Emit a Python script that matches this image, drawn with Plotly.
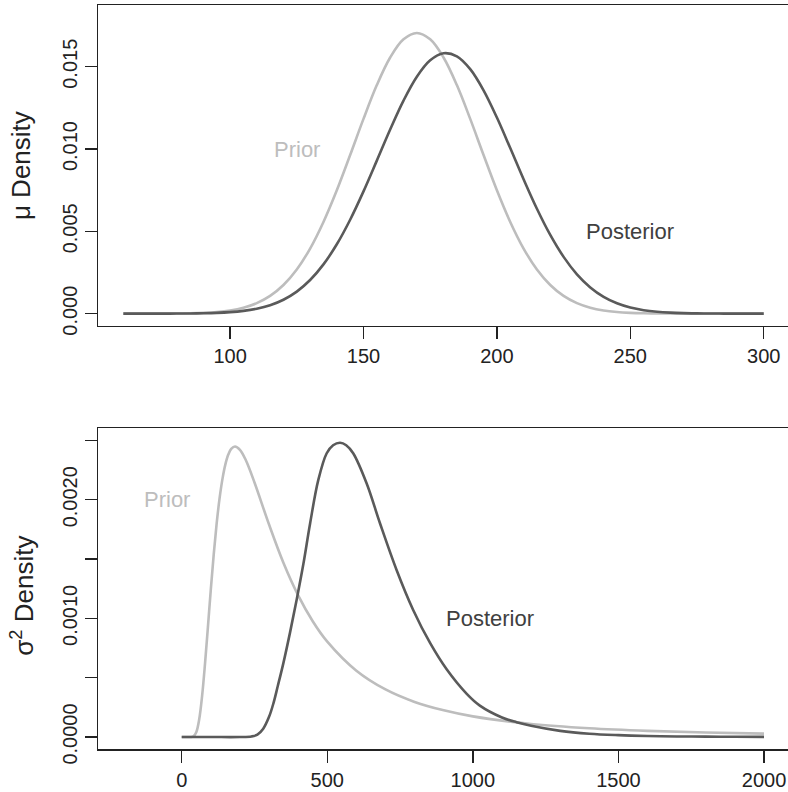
import plotly.graph_objects as go

# ---- top panel: mu ----
mu_x = [60, 65, 70, 75, 80, 85, 90, 95, 100, 105, 110, 115, 120, 125, 130, 135, 140, 145,
        150, 155, 160, 165, 170, 175, 180, 185, 190, 195, 200, 205, 210, 215, 220, 225,
        230, 235, 240, 245, 250, 255, 260, 265, 270, 275, 280, 285, 290, 295, 300]
mu_prior = [0.0000003, 0.0000007, 0.0000018, 0.0000045, 0.0000105, 0.0000232, 0.0000494,
            0.0001002, 0.000194, 0.000360, 0.000637, 0.001077, 0.001739, 0.002683, 0.003955,
            0.005572, 0.007496, 0.009637, 0.01183, 0.013884, 0.01556, 0.016665, 0.01705,
            0.016665, 0.01556, 0.013884, 0.01183, 0.009637, 0.007496, 0.005572, 0.003955,
            0.002683, 0.001739, 0.001077, 0.000637, 0.000360, 0.000194, 0.0001002, 0.0000494,
            0.0000232, 0.0000105, 0.0000045, 0.0000018, 0.0000007, 0.0000003, 0.0000001,
            0.0, 0.0, 0.0]
mu_post = [0.0000002, 0.0000004, 0.0000010, 0.0000023, 0.0000051, 0.0000112, 0.0000233,
           0.0000469, 0.0000904, 0.000168, 0.000299, 0.000513, 0.000846, 0.001340, 0.002042,
           0.002992, 0.004214, 0.005706, 0.007428, 0.009297, 0.011187, 0.012941, 0.014392,
           0.015389, 0.015819, 0.015633, 0.014853, 0.013567, 0.011914, 0.010059, 0.008164,
           0.006371, 0.004780, 0.003448, 0.002390, 0.001594, 0.001021, 0.000629, 0.000373,
           0.000212, 0.000116, 0.0000612, 0.0000310, 0.0000151, 0.0000070, 0.0000032,
           0.0000014, 0.0000006, 0.0000002]
mu_xticks = [100, 150, 200, 250, 300]
mu_yticks = [0.0, 0.005, 0.010, 0.015]
mu_yticktext = ["0.000", "0.005", "0.010", "0.015"]

# ---- bottom panel: sigma^2 ----
sig_prior_x = [0, 20, 30, 40, 50, 60, 70, 80, 90, 100, 110, 120, 130, 140, 150, 160, 170, 183,
               200, 220, 250, 300, 350, 400, 450, 500, 600, 700, 800, 900, 1000, 1200, 1400,
               1600, 1800, 2000]
sig_prior = [0.0, 0.0, 0.0000001, 0.0000052, 0.000041, 0.000148, 0.000345, 0.000616, 0.000927,
             0.001245, 0.00154, 0.001798, 0.002011, 0.002176, 0.002298, 0.002381, 0.002429,
             0.002449, 0.002421, 0.002335, 0.002146, 0.001791, 0.001465, 0.001194, 0.000976,
             0.000804, 0.000559, 0.000401, 0.000296, 0.000225, 0.000174, 0.0001104, 0.0000742,
             0.0000522, 0.0000381, 0.0000286]
sig_post_x = [0, 100, 200, 240, 260, 280, 300, 315, 330, 349, 372, 395, 418, 441, 469, 498, 520,
              544, 565, 589, 635, 681, 738, 795, 853, 910, 979, 1024, 1100, 1150, 1200, 1300,
              1400, 1500, 1600, 1700, 1800, 1900, 2000]
sig_post = [0.0, 0.0, 0.0, 0.000005, 0.00002, 0.00007, 0.00017, 0.000284, 0.00043, 0.000621,
            0.00088, 0.00116, 0.00146, 0.0018, 0.002165, 0.002392, 0.00246, 0.002481, 0.00246,
            0.002392, 0.002139, 0.001802, 0.001408, 0.001071, 0.000793, 0.000571, 0.000364,
            0.000265, 0.000165, 0.000125, 0.000095, 0.000052, 0.000028, 0.000016, 0.000009,
            0.000005, 0.000003, 0.000002, 0.000001]
sig_xticks = [0, 500, 1000, 1500, 2000]
sig_yticks = [0.0, 0.0010, 0.0020]
sig_yticktext = ["0.0000", "0.0010", "0.0020"]
sig_yminor = [0.0005, 0.0015, 0.0025]

PRIOR_C = "#bdbdbd"
POST_C = "#5a5a5a"
FONT = "Liberation Sans, Arial, Helvetica, sans-serif"
AX_C = "#222222"

fig = go.Figure()
line_kw = dict(shape="spline", smoothing=1.0)
fig.add_trace(go.Scatter(x=mu_x, y=mu_prior, mode="lines", xaxis="x", yaxis="y",
                         line=dict(color=PRIOR_C, width=2.6, **line_kw), showlegend=False,
                         hoverinfo="skip"))
fig.add_trace(go.Scatter(x=mu_x, y=mu_post, mode="lines", xaxis="x", yaxis="y",
                         line=dict(color=POST_C, width=2.6, **line_kw), showlegend=False,
                         hoverinfo="skip"))
fig.add_trace(go.Scatter(x=sig_prior_x, y=sig_prior, mode="lines", xaxis="x2", yaxis="y2",
                         line=dict(color=PRIOR_C, width=2.6, **line_kw), showlegend=False,
                         hoverinfo="skip"))
fig.add_trace(go.Scatter(x=sig_post_x, y=sig_post, mode="lines", xaxis="x2", yaxis="y2",
                         line=dict(color=POST_C, width=2.6, **line_kw), showlegend=False,
                         hoverinfo="skip"))

tick_font = dict(family=FONT, size=20, color=AX_C)
xcommon = dict(showline=True, linecolor=AX_C, linewidth=1.5, mirror=True, showgrid=False,
               zeroline=False, ticks="outside", ticklen=12, tickwidth=1.3, tickcolor=AX_C,
               tickfont=tick_font)
ycommon = dict(showline=True, linecolor=AX_C, linewidth=1.5, mirror=False, showgrid=False,
               zeroline=False, ticks="outside", ticklen=12, tickwidth=1.3, tickcolor=AX_C,
               tickfont=tick_font, tickangle=-90)

fig.update_layout(
    width=788, height=792,
    margin=dict(l=98, r=0, t=5, b=43),
    paper_bgcolor="white", plot_bgcolor="white",
    font=dict(family=FONT),
    hovermode=False,
    xaxis=dict(domain=[0, 1], anchor="y", range=[50.5, 309.1], tickvals=mu_xticks, **xcommon),
    yaxis=dict(domain=[0.569, 1], anchor="x", range=[-0.00073, 0.01875],
               tickvals=mu_yticks, ticktext=mu_yticktext, **ycommon),
    xaxis2=dict(domain=[0, 1], anchor="y2", range=[-287.5, 2082.4], tickvals=sig_xticks,
                **xcommon),
    yaxis2=dict(domain=[0, 0.431], anchor="x2", range=[-0.000101, 0.002602],
                tickvals=sig_yticks, ticktext=sig_yticktext,
                minor=dict(tickvals=sig_yminor, ticks="outside", ticklen=12, tickwidth=1.3,
                           tickcolor=AX_C, showgrid=False),
                **ycommon),
)

ann_font_prior = dict(family=FONT, size=22, color="#bdbdbd")
ann_font_post = dict(family=FONT, size=22, color="#404040")
fig.add_annotation(x=125, y=0.010, xref="x", yref="y", text="Prior", showarrow=False,
                   font=ann_font_prior, xanchor="center", yanchor="middle")
fig.add_annotation(x=250, y=0.005, xref="x", yref="y", text="Posterior", showarrow=False,
                   font=ann_font_post, xanchor="center", yanchor="middle")
fig.add_annotation(x=-50, y=0.0020, xref="x2", yref="y2", text="Prior", showarrow=False,
                   font=ann_font_prior, xanchor="center", yanchor="middle")
fig.add_annotation(x=1060, y=0.0010, xref="x2", yref="y2", text="Posterior", showarrow=False,
                   font=ann_font_post, xanchor="center", yanchor="middle")

# axis titles (rotated)
title_font = dict(family=FONT, size=26, color=AX_C)
fig.add_annotation(x=(21.7 - 98) / 690, y=(749 - 165.4) / 744, xref="paper", yref="paper",
                   text="μ Density", textangle=-90, showarrow=False, font=title_font,
                   xanchor="center", yanchor="middle")
fig.add_annotation(x=(21.7 - 98) / 690, y=(749 - 596) / 744, xref="paper", yref="paper",
                   text="σ<sup>2</sup> Density", textangle=-90, showarrow=False,
                   font=title_font, xanchor="center", yanchor="middle")

fig.write_html("out.html", config={"displayModeBar": False, "staticPlot": True})

# remove the browser's default page margin so the figure sits at the window's top-left
with open("out.html", "r", encoding="utf-8") as f:
    html = f.read()
html = html.replace("<head>", "<head><style>html,body{margin:0;padding:0;overflow:hidden;}</style>", 1)
with open("out.html", "w", encoding="utf-8") as f:
    f.write(html)
